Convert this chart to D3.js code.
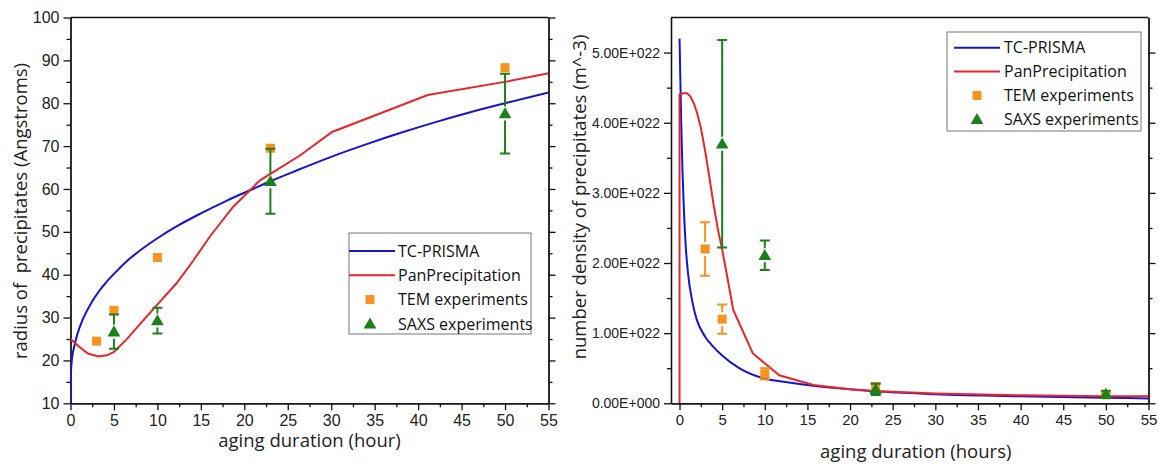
<!DOCTYPE html>
<html lang="en">
<head>
    <meta charset="UTF-8">
    <title>Precipitate radius and number density</title>
    <script src="https://cdn.jsdelivr.net/npm/d3@7"></script>
    <style>
        body { margin: 0; background: #fff; }
        svg { font-family: "Open Sans", sans-serif; }
        .tick text { fill: #222; }
        .axis path, .axis line { stroke: #111; stroke-width: 1.3px; }
        .title { fill: #222; white-space: pre; }
        .legend text { fill: #111; font-size: 16px; }
    </style>
</head>
<body>
<svg id="canvas" width="1159" height="464"></svg>
<script>
    // ---- left panel: radius (Angstroms) vs aging time (hour)
    const prismaRadiusHours = [0, 0.03, 0.15, 0.4, 0.8, 1.4, 2.5, 4, 5, 6.5, 8.5, 10, 12.5, 15, 18, 21, 23, 26, 30, 34, 38, 42, 46, 50, 55];
    const prismaRadius      = [10, 16, 20, 23, 26.2, 29.5, 33.8, 38, 40.2, 43.2, 46.4, 48.5, 51.6, 54.3, 57.3, 60, 61.8, 64.3, 67.5, 70.4, 73.1, 75.6, 77.9, 80, 82.5];
    const panRadiusHours = [0, 1, 2, 3.2, 4.2, 5, 6.4, 8.4, 10.3, 12.2, 14.1, 16, 18.7, 21.8, 23, 26.4, 30.1, 41.1, 50.3, 55];
    const panRadius      = [25, 23.2, 21.6, 20.9, 21.2, 22, 24.8, 29.4, 33.7, 38, 43.2, 48.8, 55.8, 62, 63.5, 67.8, 73.3, 81.9, 85.1, 87];
    const temRadiusHours = [3, 5, 10, 23, 50];
    const temRadius      = [24.5, 31.7, 44, 69.5, 88.3];
    const saxsRadiusHours = [5, 10, 23, 50];
    const saxsRadius      = [26.7, 29.3, 61.8, 77.6];
    const saxsRadiusErr   = [4, 3, 7.6, 9.3];

    // ---- right panel: number density (1E+022 m^-3) vs aging time (hours)
    const prismaDensHours = [0, 0.1, 0.2, 0.35, 0.5, 0.75, 1, 1.5, 2, 3, 4, 5, 7, 10, 12, 15.7, 20, 23, 30, 40, 50, 55];
    const prismaDensity   = [5.2, 4.6, 4.0, 3.3, 2.8, 2.2, 1.85, 1.45, 1.2, 0.95, 0.8, 0.68, 0.5, 0.35, 0.31, 0.25, 0.2, 0.17, 0.13, 0.1, 0.08, 0.07];
    const panDensHours = [0, 0, 0.4, 0.9, 1.3, 1.7, 2.1, 2.5, 3, 3.5, 4, 4.5, 5, 5.6, 6.3, 8.6, 11.7, 15.7, 20, 23, 30, 40, 50, 55];
    const panDensity   = [0, 4.4, 4.42, 4.42, 4.37, 4.27, 4.12, 3.93, 3.6, 3.22, 2.83, 2.48, 2.19, 1.8, 1.33, 0.71, 0.4, 0.26, 0.2, 0.175, 0.14, 0.115, 0.1, 0.1];
    const temDensHours = [3, 5, 10, 23, 50];
    const temDensity   = [2.2, 1.2, 0.42, 0.22, 0.12];
    const temDensityErr = [0.38, 0.21, 0.08, 0.07, 0.03];
    const saxsDensHours = [5, 10, 23, 50];
    const saxsDensity   = [3.7, 2.11, 0.2, 0.13];
    const saxsDensityErr = [1.48, 0.21, 0.08, 0.05];

    const hourTicks = d3.range(0, 56, 5);
    const legendNames = ["TC-PRISMA", "PanPrecipitation", "TEM experiments", "SAXS experiments"];
    const blue = "#1414d2", red = "#e8262a", orange = "#f7921e", green = "#1b7f1b";

    const svg = d3.select("#canvas");
    const plotTop = 17.5, plotBottom = 403.3;

    function zip(xs, ys) { return xs.map((x, i) => [x, ys[i]]); }

    function drawPanel(p) {
        const x = d3.scaleLinear().domain(p.xDomain).range([p.left, p.right]);
        const y = d3.scaleLinear().domain(p.yDomain).range([plotBottom, plotTop]);
        const g = svg.append("g");

        // minor ticks
        g.append("g").attr("class", "axis").attr("transform", `translate(0,${plotBottom})`)
            .call(d3.axisBottom(x).tickValues(d3.range(2.5, 55, 5)).tickSize(4).tickSizeOuter(0).tickFormat(""));
        g.append("g").attr("class", "axis").attr("transform", `translate(${p.left},0)`)
            .call(d3.axisLeft(y).tickValues(p.yMinor).tickSize(4).tickSizeOuter(0).tickFormat(""));
        g.append("g").attr("class", "axis").attr("transform", `translate(${p.right},0)`)
            .call(d3.axisRight(y).tickValues(p.yMinor).tickSize(4).tickSizeOuter(0).tickFormat(""));
        // major ticks
        g.append("g").attr("class", "axis").attr("transform", `translate(0,${plotBottom})`)
            .call(d3.axisBottom(x).tickValues(hourTicks).tickSize(7).tickSizeOuter(0).tickPadding(4))
            .selectAll("text").style("font-size", p.xTickFont);
        g.append("g").attr("class", "axis").attr("transform", `translate(${p.left},0)`)
            .call(d3.axisLeft(y).tickValues(p.yTicks).tickSize(7).tickSizeOuter(0).tickPadding(4).tickFormat(p.yFormat))
            .selectAll("text").style("font-size", p.yTickFont);
        g.append("g").attr("class", "axis").attr("transform", `translate(${p.right},0)`)
            .call(d3.axisRight(y).tickValues(p.yTicks).tickSize(7).tickSizeOuter(0).tickFormat(""));
        g.append("line").attr("x1", p.left).attr("x2", p.right).attr("y1", plotTop).attr("y2", plotTop)
            .attr("stroke", "#111").attr("stroke-width", 1.3);

        const clip = "clip" + p.id;
        g.append("clipPath").attr("id", clip).append("rect")
            .attr("x", p.left).attr("y", plotTop).attr("width", p.right - p.left).attr("height", plotBottom - plotTop);
        const plot = g.append("g").attr("clip-path", `url(#${clip})`);

        const line = d3.line().x(d => x(d[0])).y(d => y(d[1]));
        plot.append("path").datum(zip(p.prismaX, p.prismaY))
            .attr("d", line.curve(d3.curveMonotoneX))
            .attr("fill", "none").attr("stroke", blue).attr("stroke-width", 2);
        plot.append("path").datum(zip(p.panX, p.panY))
            .attr("d", line.curve(d3.curveLinear))
            .attr("fill", "none").attr("stroke", red).attr("stroke-width", 2);

        // error bars, leaving a gap round the marker
        function errorBars(xs, vs, es, color) {
            const bars = plot.append("g").attr("stroke", color).attr("stroke-width", 2);
            xs.forEach((h, i) => {
                const cx = x(h), cy = y(vs[i]);
                const y1 = y(vs[i] + es[i]), y2 = y(vs[i] - es[i]);
                if (cy - y1 > 7) bars.append("line").attr("x1", cx).attr("x2", cx).attr("y1", y1).attr("y2", cy - 7);
                if (y2 - cy > 7) bars.append("line").attr("x1", cx).attr("x2", cx).attr("y1", cy + 7).attr("y2", y2);
                [y1, y2].forEach(cyp => bars.append("line").attr("x1", cx - 5).attr("x2", cx + 5).attr("y1", cyp).attr("y2", cyp));
            });
        }

        if (p.temErr) errorBars(p.temX, p.temY, p.temErr, orange);
        plot.selectAll(null).data(zip(p.temX, p.temY)).enter().append("rect")
            .attr("x", d => x(d[0]) - 4.5).attr("y", d => y(d[1]) - 4.5)
            .attr("width", 9).attr("height", 9).attr("fill", orange);

        errorBars(p.saxsX, p.saxsY, p.saxsErr, green);
        const tri = d3.symbol().type(d3.symbolTriangle).size(70);
        plot.selectAll(null).data(zip(p.saxsX, p.saxsY)).enter().append("path")
            .attr("d", tri).attr("fill", green)
            .attr("transform", d => `translate(${x(d[0])},${y(d[1]) + 1})`);

        // axis titles
        svg.append("text").attr("class", "title")
            .attr("x", (p.left + p.right) / 2 + p.xTitleDx).attr("y", p.xTitleY)
            .attr("text-anchor", "middle").style("font-size", "18.5px").text(p.xTitle);
        svg.append("text").attr("class", "title")
            .attr("transform", `translate(${p.yTitleX},${p.yTitleY}) rotate(-90)`)
            .attr("text-anchor", "middle").style("font-size", "18.5px").text(p.yTitle);

        // legend
        const L = p.legend;
        const lg = svg.append("g").attr("class", "legend").attr("transform", `translate(${L.x},${L.y})`);
        lg.append("rect").attr("width", L.w).attr("height", L.h)
            .attr("fill", "#fff").attr("stroke", "#777").attr("stroke-width", 1);
        legendNames.forEach((name, i) => {
            const ly = L.first + i * L.step;
            if (i === 0 || i === 1) {
                lg.append("line").attr("x1", L.line[0]).attr("x2", L.line[1]).attr("y1", ly).attr("y2", ly)
                    .attr("stroke", i === 0 ? blue : red).attr("stroke-width", 2);
            } else if (i === 2) {
                lg.append("rect").attr("x", L.mark - 4.5).attr("y", ly - 4.5).attr("width", 9).attr("height", 9).attr("fill", orange);
            } else {
                lg.append("path").attr("d", tri).attr("fill", green).attr("transform", `translate(${L.mark},${ly + 1})`);
            }
            lg.append("text").attr("x", L.text).attr("y", ly).attr("dy", "0.36em").text(name);
        });
    }

    drawPanel({
        id: "A", left: 70.5, right: 548.5, xDomain: [0, 55], yDomain: [10, 100],
        yTicks: d3.range(10, 101, 10), yMinor: d3.range(15, 100, 10), yFormat: d3.format("d"),
        xTickFont: "16px", yTickFont: "16px",
        prismaX: prismaRadiusHours, prismaY: prismaRadius,
        panX: panRadiusHours, panY: panRadius,
        temX: temRadiusHours, temY: temRadius, temErr: null,
        saxsX: saxsRadiusHours, saxsY: saxsRadius, saxsErr: saxsRadiusErr,
        xTitle: "aging duration (hour)", xTitleY: 447, xTitleDx: 0,
        yTitle: "radius of  precipitates (Angstroms)", yTitleX: 27, yTitleY: 211,
        legend: { x: 349, y: 233, w: 182, h: 101, first: 18, step: 24.3, line: [0, 46], mark: 21, text: 49 }
    });

    drawPanel({
        id: "B", left: 671, right: 1148.5, xDomain: [-1, 55], yDomain: [0, 5.5],
        yTicks: d3.range(0, 5.01, 1), yMinor: d3.range(0.5, 5.5, 1),
        yFormat: d => d === 0 ? "0.00E+000" : d.toFixed(2) + "E+022",
        xTickFont: "15px", yTickFont: "14px",
        prismaX: prismaDensHours, prismaY: prismaDensity,
        panX: panDensHours, panY: panDensity,
        temX: temDensHours, temY: temDensity, temErr: temDensityErr,
        saxsX: saxsDensHours, saxsY: saxsDensity, saxsErr: saxsDensityErr,
        xTitle: "aging duration (hours)", xTitleY: 458, xTitleDx: 6,
        yTitle: "number density of precipitates (m^-3)", yTitleX: 586, yTitleY: 197,
        legend: { x: 947, y: 32, w: 194, h: 99, first: 15.7, step: 23.9, line: [7, 53], mark: 30, text: 57 }
    });
</script>
</body>
</html>
